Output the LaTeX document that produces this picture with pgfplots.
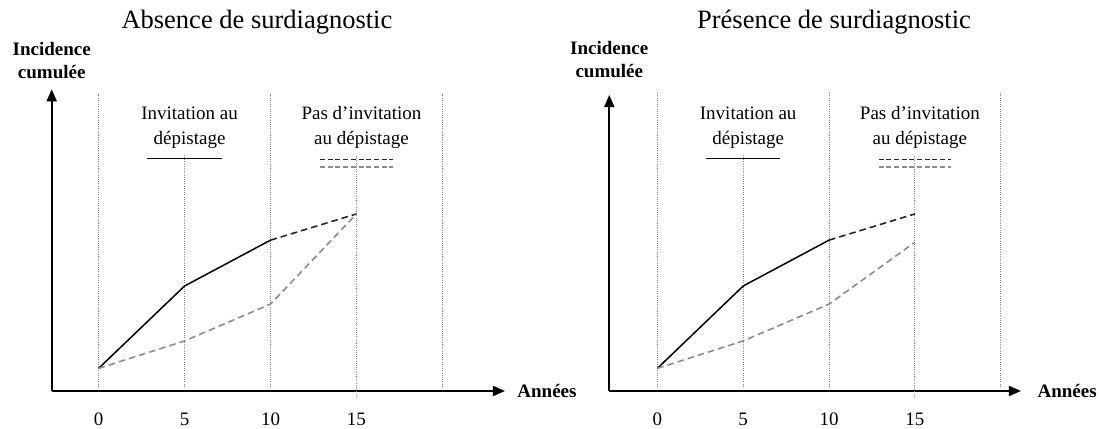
\documentclass[border=0pt]{standalone}
\usepackage{fontspec}
\setmainfont{Liberation Serif}
\usepackage{pgfplots}
\pgfplotsset{compat=1.18}
\usetikzlibrary{arrows.meta}
\definecolor{gridc}{HTML}{858585}
\definecolor{greyline}{HTML}{8C8C8C}
\pgfplotsset{
  surd/.style={
    scale only axis, axis lines=left, clip=false,
    ymin=0,
    axis line style={line width=0.9pt, -{Triangle[length=6pt,width=5pt]}},
    xtick={0,5,10,15}, ytick=\empty, major tick length=0,
    xticklabel style={inner sep=0pt, anchor=base, yshift=-17.3pt,
      text depth=0pt, font=\fontsize{9.5}{11}\selectfont},
    /pgf/number format/assume math mode=true,
  },
}
\tikzset{
  vgrid/.style={gridc, line width=0.5pt, dash pattern=on 0.5pt off 0.6pt},
  solidl/.style={black, line width=0.75pt},
  bdash/.style={black!85, line width=0.8pt, dash pattern=on 3.3pt off 2pt},
  gdash/.style={greyline, line width=0.8pt, dash pattern=on 3.3pt off 2pt},
  bleg/.style={black!85, line width=0.7pt, dash pattern=on 2.5pt off 1.35pt},
  gleg/.style={greyline, line width=0.7pt, dash pattern=on 2.5pt off 1.35pt},
  titlef/.style={font=\fontsize{13.25}{15}\selectfont},
  labf/.style={font=\fontsize{9.5}{12.5}\selectfont, align=center},
  boldf/.style={font=\bfseries\fontsize{9.5}{11.5}\selectfont, align=center},
}
\begin{document}
\begin{tikzpicture}
\useasboundingbox (0,0) rectangle (550pt,214.5pt);
% ---------------- left panel
\begin{axis}[surd, at={(25.85pt,19pt)}, anchor=south west,
  width=226.65pt, height=150.85pt, xmin=-2.73, xmax=23.64, ymax=100]
\addplot[vgrid] coordinates {(0,1.4) (0,98.6)};
\addplot[vgrid] coordinates {(5,1.4) (5,78.2)};
\addplot[vgrid] coordinates {(10,1.4) (10,98.6)};
\addplot[vgrid] coordinates {(15,-1.9) (15,78.2)};
\addplot[vgrid] coordinates {(20,1.4) (20,98.6)};
\addplot[solidl] coordinates {(0,7.5) (5,34.8) (10,50.0)};
\addplot[bdash] coordinates {(10,50.0) (15,58.7)};
\addplot[gdash] coordinates {(0,7.5) (5,16.6) (10,28.8) (15,58.7)};
\addplot[solidl] coordinates {(2.84,77.1) (7.16,77.1)};
\addplot[bleg] coordinates {(12.88,76.8) (17.12,76.8)};
\addplot[gleg] coordinates {(12.88,74.2) (17.12,74.2)};
\node[titlef] at (axis cs:9.21,122.3) {Absence de surdiagnostic};
\node[boldf] at (axis cs:-2.73,109.7) {Incidence\\cumulée};
\node[boldf, anchor=west, inner sep=0pt] at (axis cs:24.34,0) {Années};
\node[labf] at (axis cs:5.29,87.4) {Invitation au\\dépistage};
\node[labf] at (axis cs:15.29,87.4) {Pas d’invitation\\au dépistage};
\end{axis}
% ---------------- right panel
\begin{axis}[surd, at={(304.65pt,19pt)}, anchor=south west,
  width=205.85pt, height=148pt, xmin=-2.80, xmax=21.18, ymax=98.1]
\addplot[vgrid] coordinates {(0,1.4) (0,98.6)};
\addplot[vgrid] coordinates {(5,1.4) (5,78.2)};
\addplot[vgrid] coordinates {(10,1.4) (10,98.6)};
\addplot[vgrid] coordinates {(15,-1.9) (15,78.2)};
\addplot[vgrid] coordinates {(20,1.4) (20,98.6)};
\addplot[solidl] coordinates {(0,7.5) (5,34.8) (10,50.0)};
\addplot[bdash] coordinates {(10,50.0) (15,58.7)};
\addplot[gdash] coordinates {(0,7.5) (5,16.6) (10,28.8) (15,49.3)};
\addplot[solidl] coordinates {(2.84,77.1) (7.16,77.1)};
\addplot[bleg] coordinates {(12.88,76.8) (17.12,76.8)};
\addplot[gleg] coordinates {(12.88,74.2) (17.12,74.2)};
\node[titlef] at (axis cs:10.29,122.3) {Présence de surdiagnostic};
\node[boldf] at (axis cs:-2.80,109.7) {Incidence\\cumulée};
\node[boldf, anchor=west, inner sep=0pt] at (axis cs:22.12,0) {Années};
\node[labf] at (axis cs:5.29,87.4) {Invitation au\\dépistage};
\node[labf] at (axis cs:15.29,87.4) {Pas d’invitation\\au dépistage};
\end{axis}
\end{tikzpicture}
\end{document}
